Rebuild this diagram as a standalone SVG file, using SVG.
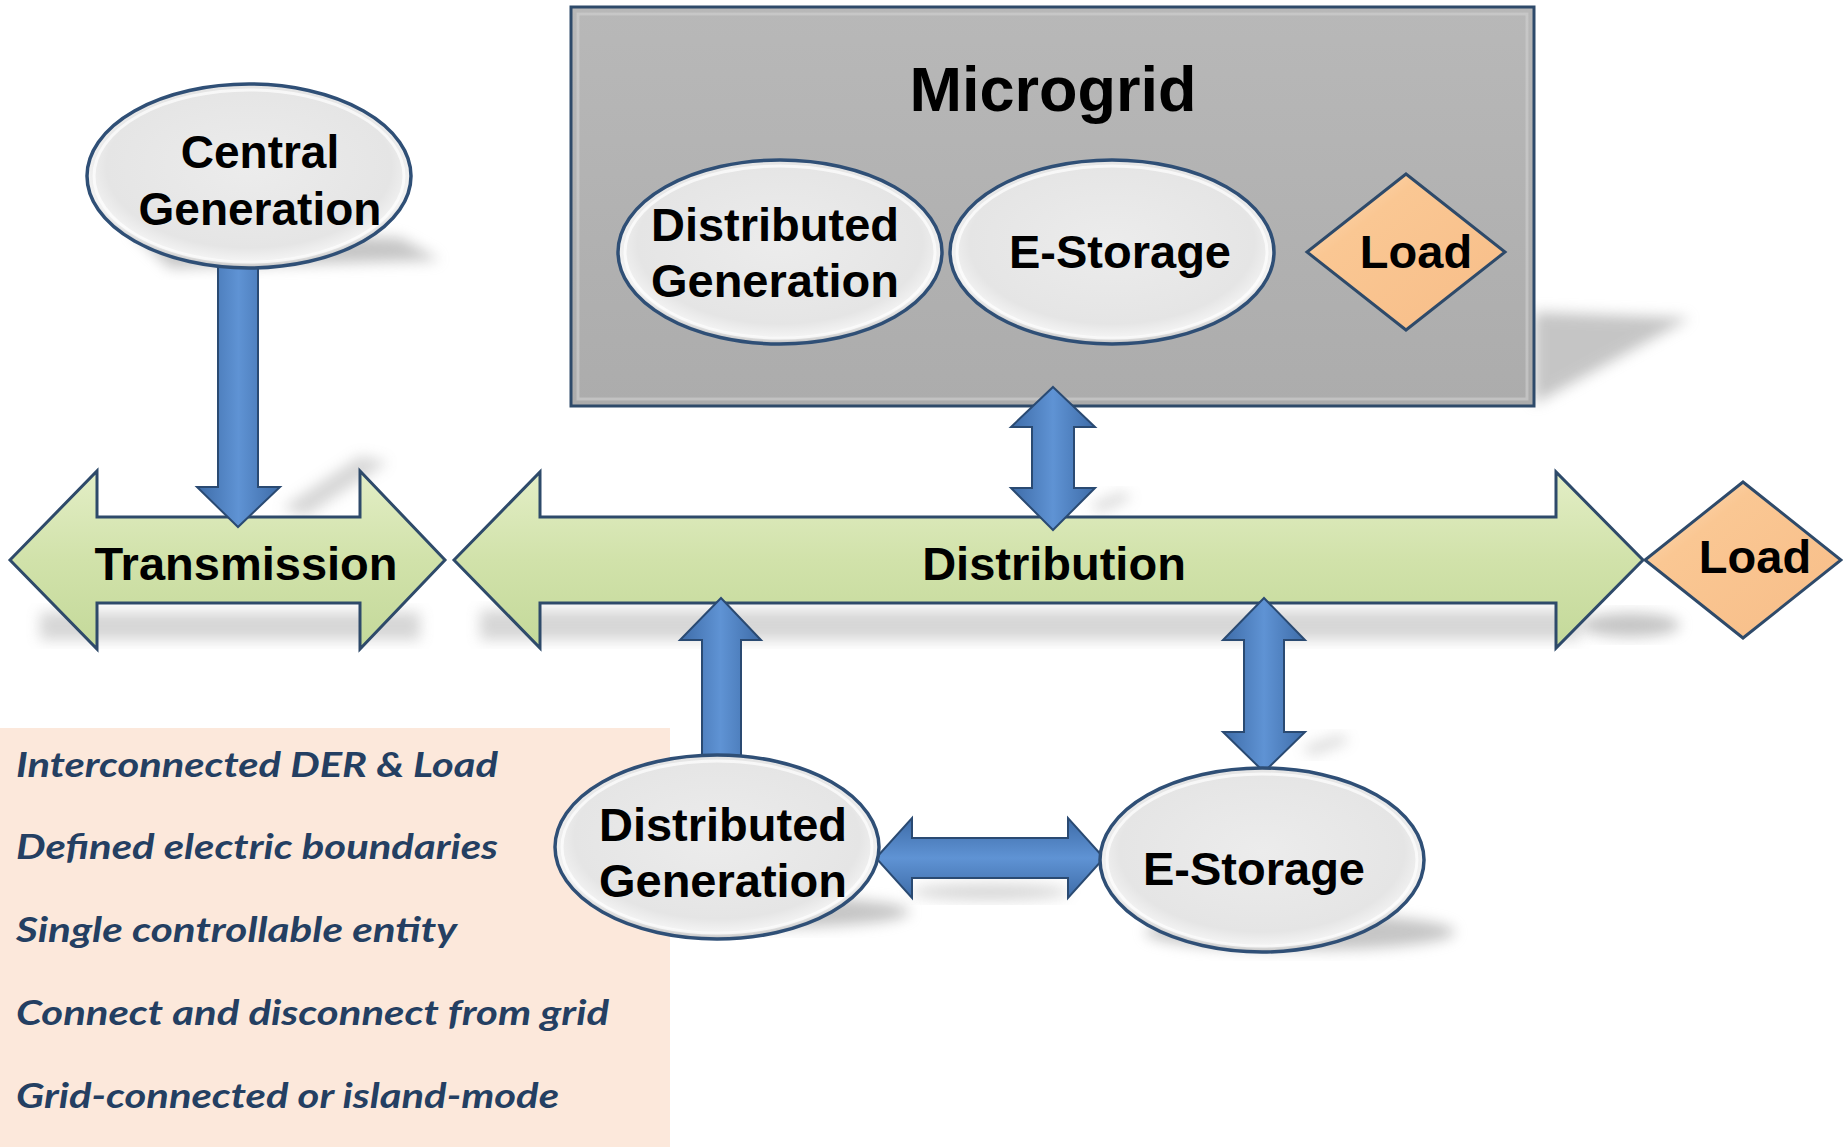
<svg xmlns="http://www.w3.org/2000/svg" width="1843" height="1147" viewBox="0 0 1843 1147">
<style>
.lbl{font-family:"Liberation Sans",Arial,sans-serif;font-weight:bold;fill:#000;text-anchor:middle}
.info{font-family:Lato,"Open Sans","Noto Sans",sans-serif;font-weight:bold;font-style:italic;fill:#243f62;font-size:35px}
.ell{fill:url(#ellG);stroke:#2f4f76;stroke-width:3.5}
.ellin{fill:none;stroke:#ffffff;stroke-opacity:0.7;stroke-width:3}
.grn{fill:url(#grnG);stroke:#2e4a6a;stroke-width:3;stroke-linejoin:miter}
.blu{stroke:#2a4a72;stroke-width:2;stroke-linejoin:miter}
.dia{fill:url(#peachG);stroke:#2e4a6a;stroke-width:3}
.shd{fill:#8c8c8c;opacity:0.5;filter:url(#blur)}
.shl{fill:#9a9a9a;opacity:0.4;filter:url(#blur)}
</style>
<defs>
<linearGradient id="grnG" x1="0" y1="0" x2="0" y2="1">
<stop offset="0" stop-color="#e3eec6"/>
<stop offset="0.5" stop-color="#d1e2aa"/>
<stop offset="1" stop-color="#c4d99a"/>
</linearGradient>
<linearGradient id="bluV" x1="0" y1="0" x2="1" y2="0">
<stop offset="0" stop-color="#3e6ca8"/>
<stop offset="0.5" stop-color="#5f93d4"/>
<stop offset="1" stop-color="#3e6ca8"/>
</linearGradient>
<linearGradient id="bluH" x1="0" y1="0" x2="0" y2="1">
<stop offset="0" stop-color="#3e6ca8"/>
<stop offset="0.5" stop-color="#5f93d4"/>
<stop offset="1" stop-color="#3e6ca8"/>
</linearGradient>
<radialGradient id="ellG" cx="0.5" cy="0.45" r="0.55">
<stop offset="0" stop-color="#ececec"/>
<stop offset="0.8" stop-color="#e5e5e5"/>
<stop offset="0.92" stop-color="#f2f2f2"/>
<stop offset="1" stop-color="#bfbfbf"/>
</radialGradient>
<linearGradient id="peachG" x1="0" y1="0" x2="1" y2="1">
<stop offset="0" stop-color="#fde1c3"/>
<stop offset="0.3" stop-color="#fac793"/>
<stop offset="1" stop-color="#f7bd88"/>
</linearGradient>
<linearGradient id="boxG" x1="0" y1="0" x2="0" y2="1">
<stop offset="0" stop-color="#b8b8b8"/>
<stop offset="1" stop-color="#acacac"/>
</linearGradient>
<filter id="blur" x="-30%" y="-30%" width="160%" height="160%">
<feGaussianBlur stdDeviation="7"/>
</filter>
</defs>

<rect width="1843" height="1147" fill="#ffffff"/>

<g id="shadows">
<polygon class="shd" points="1534,312 1690,318 1534,404"/>
<polygon class="shd" points="130,230 400,238 440,260 170,268"/>
<polygon class="shl" points="282,508 360,456 388,462 306,516"/>
<rect class="shl" x="40" y="612" width="380" height="28"/>
<rect class="shl" x="480" y="610" width="1100" height="30"/>
<polygon class="shl" points="1090,505 1122,492 1132,498 1100,512"/>
<polygon class="shl" points="1302,748 1340,735 1350,741 1312,755"/>
<ellipse class="shd" cx="1630" cy="625" rx="50" ry="12"/>
<ellipse class="shd" cx="760" cy="912" rx="150" ry="16"/>
<ellipse class="shd" cx="1300" cy="932" rx="155" ry="18"/>
<ellipse class="shl" cx="990" cy="892" rx="80" ry="8"/>
</g>

<g id="info">
<rect x="0" y="728" width="670" height="419" fill="#fce8db"/>
<text class="info" x="16" y="777" textLength="482" lengthAdjust="spacingAndGlyphs">Interconnected DER &amp; Load</text>
<text class="info" x="16" y="859" textLength="482" lengthAdjust="spacingAndGlyphs">Defined electric boundaries</text>
<text class="info" x="16" y="942" textLength="441" lengthAdjust="spacingAndGlyphs">Single controllable entity</text>
<text class="info" x="16" y="1025" textLength="593" lengthAdjust="spacingAndGlyphs">Connect and disconnect from grid</text>
<text class="info" x="16" y="1108" textLength="543" lengthAdjust="spacingAndGlyphs">Grid-connected or island-mode</text>
</g>

<g id="microgrid">
<rect x="571" y="7" width="963" height="399" fill="url(#boxG)" stroke="#2e4a6a" stroke-width="3"/>
<rect x="578" y="14" width="949" height="385" fill="none" stroke="#d0d0d0" stroke-opacity="0.6" stroke-width="3"/>
<text class="lbl" x="1053" y="111" font-size="63">Microgrid</text>
<g id="mg-dg">
<ellipse class="ell" cx="780" cy="252" rx="162" ry="92"/>
<ellipse class="ellin" cx="780" cy="252" rx="155" ry="86"/>
<text class="lbl" x="775" y="241" font-size="47">Distributed</text>
<text class="lbl" x="775" y="297" font-size="47">Generation</text>
</g>
<g id="mg-storage">
<ellipse class="ell" cx="1112" cy="252" rx="162" ry="92"/>
<ellipse class="ellin" cx="1112" cy="252" rx="155" ry="86"/>
<text class="lbl" x="1120" y="268" font-size="47">E-Storage</text>
</g>
<g id="mg-load">
<polygon class="dia" points="1406,174 1505,252 1406,330 1307,252"/>
<text class="lbl" x="1416" y="268" font-size="47">Load</text>
</g>
</g>

<g id="transmission">
<path class="grn" d="M10,560 L97,471 L97,517 L360,517 L360,471 L445,560 L360,649 L360,603 L97,603 L97,649 Z"/>
<text class="lbl" x="246" y="580" font-size="47">Transmission</text>
</g>

<g id="distribution">
<path class="grn" d="M454,560 L540,472 L540,517 L1556,517 L1556,472 L1643,560 L1556,648 L1556,603 L540,603 L540,648 Z"/>
<text class="lbl" x="1054" y="580" font-size="47">Distribution</text>
</g>

<g id="connectors">
<path class="blu" fill="url(#bluV)" d="M218,255 L258,255 L258,487 L280,487 L238,527 L197,487 L218,487 Z"/>
<path class="blu" fill="url(#bluV)" d="M1053,387 L1095,427 L1074,427 L1074,488 L1095,488 L1053,530 L1011,488 L1032,488 L1032,427 L1011,427 Z"/>
<path class="blu" fill="url(#bluV)" d="M721,598 L761,640 L741,640 L741,770 L702,770 L702,640 L680,640 Z"/>
<path class="blu" fill="url(#bluV)" d="M1264,598 L1305,640 L1284,640 L1284,732 L1305,732 L1264,772 L1223,732 L1244,732 L1244,640 L1223,640 Z"/>
<path class="blu" fill="url(#bluH)" d="M876,858 L912,818 L912,838 L1068,838 L1068,818 L1104,858 L1068,898 L1068,878 L912,878 L912,898 Z"/>
</g>

<g id="central-gen">
<ellipse class="ell" cx="249" cy="176" rx="162" ry="92"/>
<ellipse class="ellin" cx="249" cy="176" rx="155" ry="86"/>
<text class="lbl" x="260" y="168" font-size="46">Central</text>
<text class="lbl" x="260" y="225" font-size="46">Generation</text>
</g>

<g id="dg">
<ellipse class="ell" cx="717" cy="847" rx="162" ry="92"/>
<ellipse class="ellin" cx="717" cy="847" rx="155" ry="86"/>
<text class="lbl" x="723" y="841" font-size="47">Distributed</text>
<text class="lbl" x="723" y="897" font-size="47">Generation</text>
</g>

<g id="storage">
<ellipse class="ell" cx="1262" cy="860" rx="162" ry="92"/>
<ellipse class="ellin" cx="1262" cy="860" rx="155" ry="86"/>
<text class="lbl" x="1254" y="885" font-size="47">E-Storage</text>
</g>

<g id="load">
<polygon class="dia" points="1743,482 1841,560 1743,638 1645,560"/>
<text class="lbl" x="1755" y="573" font-size="47">Load</text>
</g>
</svg>
